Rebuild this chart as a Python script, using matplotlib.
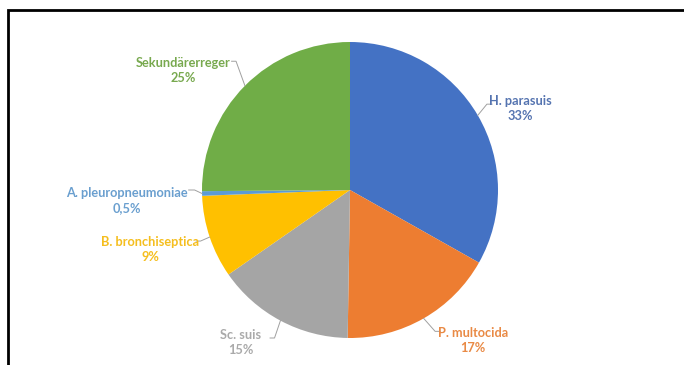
import numpy as np
import matplotlib.pyplot as plt
from matplotlib.patches import Rectangle

names = ['H. parasuis', 'P. multocida', 'Sc. suis', 'B. bronchiseptica',
         'A. pleuropneumoniae', 'Sekundärerreger']
values = [33, 17, 15, 9, 0.5, 25]
pct_labels = ['33%', '17%', '15%', '9%', '0,5%', '25%']
colors = ['#4472C4', '#ED7D31', '#A5A5A5', '#FFC000', '#5B9BD5', '#70AD47']
text_colors = ['#5574B0', '#E98A45', '#AAAAAA', '#F5BE1E', '#6A9FCF', '#78A94F']

# label layout (data coords, radius = 1): text centre, leader start, elbow
text_pos = [(1.15, 0.55), (0.83, -1.02), (-0.74, -1.03), (-1.35, -0.40),
            (-1.51, -0.07), (-1.13, 0.81)]
leader = [[(0.96, 0.58), (0.925, 0.58)],
          [(0.61, -0.955), (0.575, -0.955)],
          [(-0.54, -1.0), (-0.51, -1.0)],
          [(-1.04, -0.345), (-1.01, -0.345)],
          [(-1.09, 0.0), (-1.05, 0.0)],
          [(-0.80, 0.87), (-0.77, 0.87)]]

plt.rcParams['font.family'] = ['Lato', 'DejaVu Sans']

fig = plt.figure(figsize=(6.84, 3.65), dpi=100)
ax = fig.add_axes([(350 - 148) / 684, (365 - 190 - 148) / 365, 296 / 684, 296 / 365])

wedges, _ = ax.pie(values, colors=colors, startangle=90, counterclock=False,
                   wedgeprops=dict(linewidth=0))
ax.set_xlim(-1, 1)
ax.set_ylim(-1, 1)
ax.set_aspect('equal')
ax.axis('off')

for i, w in enumerate(wedges):
    mid = np.deg2rad((w.theta1 + w.theta2) / 2)
    edge = (np.cos(mid), np.sin(mid))
    pts = leader[i] + [edge]
    ax.plot([p[0] for p in pts], [p[1] for p in pts], color='#a0a0a0', lw=0.7,
            clip_on=False)
    ax.text(text_pos[i][0], text_pos[i][1], names[i] + '\n' + pct_labels[i],
            ha='center', va='center', fontsize=9.2, fontweight='bold',
            color=text_colors[i], linespacing=1.3, clip_on=False)

# frame around the picture
fig.patches.append(Rectangle((7.5 / 684, -0.1), 1.2, 1 - 10 / 365 + 0.1,
                             transform=fig.transFigure, fill=False,
                             edgecolor='black', linewidth=2))

fig.savefig('out.png', dpi=100)
